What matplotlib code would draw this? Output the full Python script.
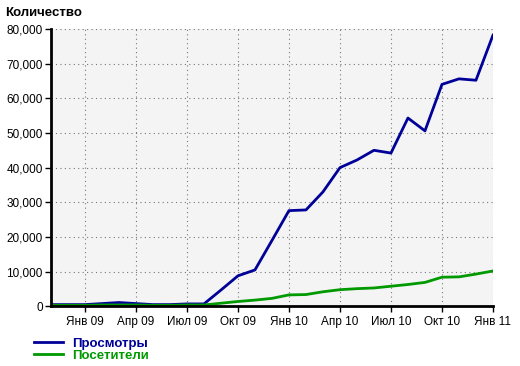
import matplotlib.pyplot as plt
import matplotlib.ticker as mticker

# месяцы: ноя 2008 .. янв 2011
months = list(range(27))
views = [500, 500, 500, 800, 1100, 800, 500, 500, 700, 700, 4700, 8800, 10500,
         19000, 27600, 27800, 33000, 40000, 42200, 45000, 44200, 54300, 50600,
         64000, 65600, 65200, 78200]
visitors = [300, 300, 300, 400, 400, 400, 300, 300, 400, 400, 900, 1400, 1800,
            2300, 3300, 3400, 4200, 4800, 5100, 5300, 5800, 6300, 6900,
            8400, 8500, 9300, 10200]
tick_pos = [2, 5, 8, 11, 14, 17, 20, 23, 26]
tick_labels = ['Янв 09', 'Апр 09', 'Июл 09', 'Окт 09', 'Янв 10', 'Апр 10',
               'Июл 10', 'Окт 10', 'Янв 11']

plt.rcParams['font.family'] = ['Liberation Sans', 'DejaVu Sans']

fig = plt.figure(figsize=(5.2, 3.66), dpi=100)
ax = fig.add_axes([0.098, 0.163, 0.850, 0.758])
ax.set_facecolor('#f4f4f4')

ax.plot(months, views, color='#000099', lw=2, label='Просмотры')
ax.plot(months, visitors, color='#009900', lw=2, label='Посетители')

ax.set_xlim(0, 26)
ax.set_ylim(0, 80000)
ax.set_xticks(tick_pos)
ax.set_xticklabels(tick_labels)
ax.yaxis.set_major_locator(mticker.MultipleLocator(10000))
ax.yaxis.set_major_formatter(mticker.FuncFormatter(lambda v, p: f'{int(v):,}'))
ax.tick_params(labelsize=8.5, length=4, width=1, color='black', pad=2)
ax.tick_params(axis='x', pad=3)

ax.grid(True, linestyle=(0, (1, 3)), color='#777777', lw=0.8)
ax.set_axisbelow(True)
for s in ['top', 'right']:
    ax.spines[s].set_visible(False)
for s in ['left', 'bottom']:
    ax.spines[s].set_linewidth(2)

fig.text(0.01, 0.965, 'Количество', fontsize=9.5, fontweight='bold', va='center')

leg = fig.legend(loc='upper left', bbox_to_anchor=(0.052, 0.096), frameon=False,
                 fontsize=9.5, handlelength=2.2, handletextpad=0.7,
                 labelspacing=0.0, borderpad=0)
for t, c in zip(leg.get_texts(), ['#000099', '#009900']):
    t.set_color(c)
    t.set_fontweight('bold')

fig.savefig('out.png', dpi=100)
